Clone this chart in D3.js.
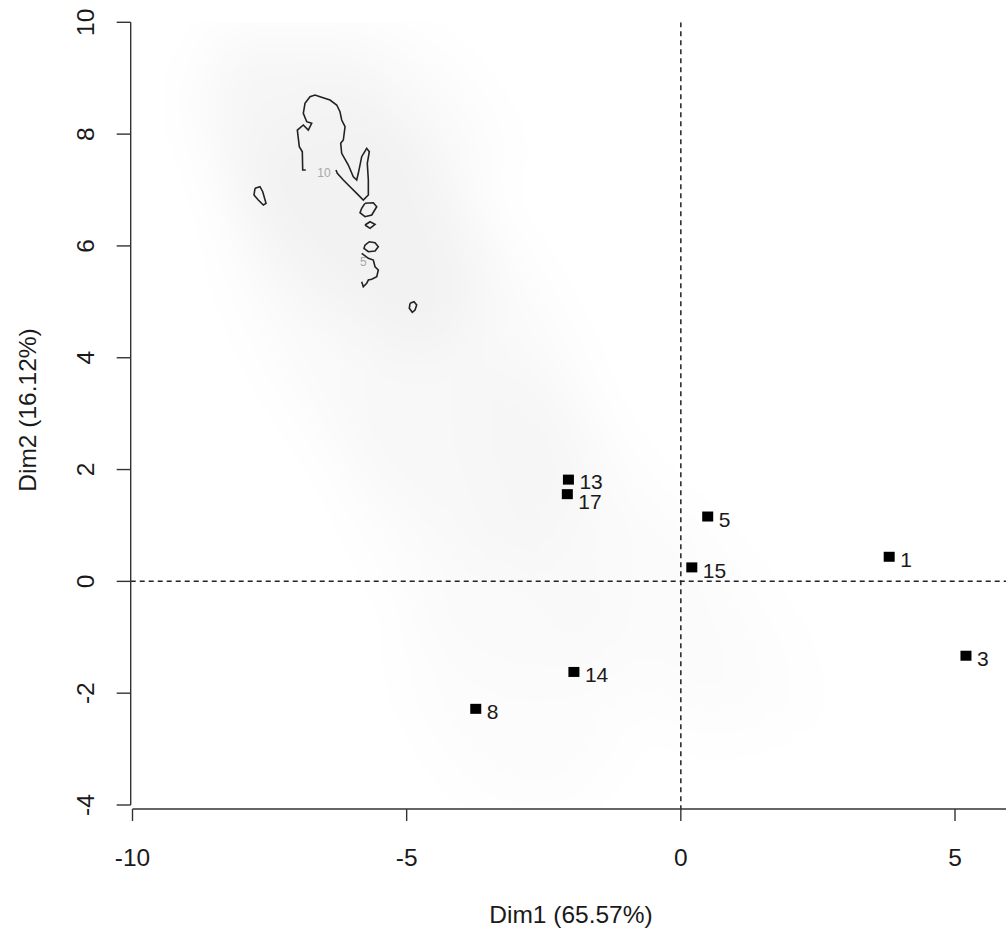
<!DOCTYPE html>
<html>
<head>
<meta charset="utf-8">
<script src="https://cdn.jsdelivr.net/npm/d3@7"></script>
<style>
  html, body { margin: 0; padding: 0; background: #ffffff; }
  svg { display: block; }
  text { font-family: "Liberation Sans", Arial, Helvetica, sans-serif; fill: #1a1a1a; }
</style>
</head>
<body>
<svg id="chart" width="1006" height="935"></svg>
<script>
// Individuals on the first factorial plane
const labels = ["13", "17", "5", "15", "1", "3", "14", "8"];
const dim1   = [-2.05, -2.07, 0.49, 0.20, 3.80, 5.20, -1.95, -3.74];
const dim2   = [ 1.82,  1.56, 1.16, 0.25, 0.44, -1.33, -1.62, -2.28];

const xTicks = [-10, -5, 0, 5];
const yTicks = [-4, -2, 0, 2, 4, 6, 8, 10];
const xTitle = "Dim1 (65.57%)";
const yTitle = "Dim2 (16.12%)";

// Density contour at level 10 (open where its label sits)
const contour10 = [
  [-6.289, 7.358], [-6.265, 7.299], [-6.155, 7.179], [-6.033, 7.059], [-5.911, 6.941],
  [-5.791, 6.821], [-5.699, 6.911], [-5.699, 7.179], [-5.718, 7.478], [-5.681, 7.685],
  [-5.729, 7.746], [-5.820, 7.596], [-5.882, 7.299], [-5.911, 7.179], [-5.973, 7.238],
  [-6.064, 7.447], [-6.185, 7.657], [-6.203, 7.835], [-6.155, 7.894], [-6.124, 8.132],
  [-6.185, 8.252], [-6.216, 8.401], [-6.276, 8.521], [-6.398, 8.610], [-6.580, 8.669],
  [-6.672, 8.700], [-6.763, 8.669], [-6.854, 8.551], [-6.885, 8.372], [-6.823, 8.222],
  [-6.732, 8.193], [-6.794, 8.073], [-6.885, 8.163], [-6.994, 8.073], [-6.958, 7.775],
  [-6.903, 7.685], [-6.896, 7.358], [-6.840, 7.358]
];
// Small closed islands of the same level
const islandA = [[-7.766, 7.030], [-7.675, 7.059], [-7.625, 6.970], [-7.565, 6.762], [-7.614, 6.732], [-7.706, 6.821], [-7.784, 6.911]];
const islandB = [[-5.760, 6.762], [-5.608, 6.773], [-5.546, 6.701], [-5.637, 6.553], [-5.760, 6.522], [-5.851, 6.594], [-5.820, 6.673]];
const islandC = [[-5.760, 6.374], [-5.668, 6.433], [-5.577, 6.386], [-5.668, 6.315]];
const islandD = [[-5.760, 6.016], [-5.681, 6.075], [-5.577, 6.057], [-5.517, 5.986], [-5.577, 5.909], [-5.699, 5.896], [-5.778, 5.957]];
const islandE = [[-4.939, 4.973], [-4.866, 5.002], [-4.817, 4.943], [-4.848, 4.853], [-4.897, 4.812], [-4.952, 4.884]];
// Open piece at level 5
const contour5 = [
  [-5.820, 5.868], [-5.699, 5.778], [-5.608, 5.748], [-5.577, 5.628], [-5.517, 5.569],
  [-5.546, 5.449], [-5.637, 5.403], [-5.699, 5.390], [-5.729, 5.331], [-5.791, 5.270], [-5.820, 5.360]
];
const contourLabels = [
  { text: "10", x: -6.507, y: 7.304 },
  { text: "5",  x: -5.791, y: 5.718 }
];

// Soft density shading: centre, half-lengths (Dim1 units), screen angle, grey level
const shadeCx    = [-6.2, -4.9, -3.6, -1.3, -3.0, 0.5, -5.0];
const shadeCy    = [ 7.0,  4.4,  1.4,  0.5, -1.6, -0.6, 8.6];
const shadeRx    = [ 3.4,  4.6,  3.6,  4.0,  2.6,  2.6, 2.0];
const shadeRy    = [ 1.7,  2.4,  2.2,  1.4,  1.9,  1.1, 0.9];
const shadeAngle = [ 52,   56,   62,   55,   72,   52,  40];
const shadeGrey  = [0.034, 0.02, 0.013, 0.011, 0.012, 0.008, 0.018];

const svg = d3.select("#chart");
const x = d3.scaleLinear().domain([-10, 5]).range([132.5, 955]);
const y = d3.scaleLinear().domain([-4, 10]).range([805, 22.3]);
const unit = x(1) - x(0);

const plotLeft = 130.7, plotRight = 1006, plotTop = 22.3, plotBottom = 809;

const defs = svg.append("defs");
defs.append("clipPath").attr("id", "plotClip")
  .append("rect").attr("x", plotLeft).attr("y", plotTop)
  .attr("width", plotRight - plotLeft).attr("height", plotBottom - plotTop);
defs.append("filter").attr("id", "soft")
  .attr("x", "-50%").attr("y", "-50%").attr("width", "200%").attr("height", "200%")
  .append("feGaussianBlur").attr("stdDeviation", 28);

// shading
const shade = svg.append("g").attr("clip-path", "url(#plotClip)")
  .append("g").attr("filter", "url(#soft)");
shadeCx.forEach((cx, i) => {
  shade.append("ellipse")
    .attr("transform", `translate(${x(cx)},${y(shadeCy[i])}) rotate(${shadeAngle[i]})`)
    .attr("rx", shadeRx[i] * unit)
    .attr("ry", shadeRy[i] * unit)
    .attr("fill", "#000")
    .attr("fill-opacity", shadeGrey[i]);
});

// reference lines through the origin
const plot = svg.append("g").attr("clip-path", "url(#plotClip)");
plot.append("line")
  .attr("x1", x(0)).attr("x2", x(0)).attr("y1", plotTop).attr("y2", plotBottom)
  .attr("stroke", "#222").attr("stroke-width", 1.5).attr("stroke-dasharray", "5,4");
plot.append("line")
  .attr("x1", plotLeft).attr("x2", plotRight).attr("y1", y(0)).attr("y2", y(0))
  .attr("stroke", "#222").attr("stroke-width", 1.5).attr("stroke-dasharray", "5,4");

// contours
const line = d3.line().x(d => x(d[0])).y(d => y(d[1]));
const closed = pts => pts.concat([pts[0]]);
const contourG = plot.append("g").attr("fill", "none").attr("stroke", "#222").attr("stroke-width", 1.6);
contourG.append("path").attr("d", line(contour10));
[islandA, islandB, islandC, islandD, islandE].forEach(p => contourG.append("path").attr("d", line(closed(p))));
contourG.append("path").attr("d", line(contour5));
plot.selectAll("text.clab").data(contourLabels).join("text")
  .attr("class", "clab")
  .attr("x", d => x(d.x)).attr("y", d => y(d.y))
  .attr("text-anchor", "middle").attr("dominant-baseline", "central")
  .attr("font-size", 12).style("fill", "#a8a8a8")
  .text(d => d.text);

// points
const pts = labels.map((l, i) => ({ label: l, x: dim1[i], y: dim2[i] }));
const sq = 10;
plot.selectAll("rect.pt").data(pts).join("rect")
  .attr("class", "pt")
  .attr("x", d => x(d.x) - sq / 2 - 0.5).attr("y", d => y(d.y) - sq / 2)
  .attr("width", sq + 1).attr("height", sq)
  .attr("fill", "#000");
// the two close neighbours are pushed slightly apart
const labelShift = { "13": -1, "17": 4 };
plot.selectAll("text.pl").data(pts).join("text")
  .attr("class", "pl")
  .attr("x", d => x(d.x) + 11).attr("y", d => y(d.y) + 3 + (labelShift[d.label] || 0))
  .attr("dominant-baseline", "central")
  .attr("font-size", 21)
  .text(d => d.label);

// axes in base-graphics style
const axisColor = "#333";
const axisFont = 24.5;
const fmt = d => d < 0 ? "-" + Math.abs(d) : String(d);

const xAxis = svg.append("g").attr("transform", `translate(0,${plotBottom})`);
xAxis.append("line").attr("x1", x(-10)).attr("x2", plotRight).attr("y1", 0).attr("y2", 0)
  .attr("stroke", axisColor).attr("stroke-width", 1.4);
xAxis.selectAll("line.tk").data(xTicks).join("line").attr("class", "tk")
  .attr("x1", d => x(d)).attr("x2", d => x(d)).attr("y1", 0).attr("y2", 12)
  .attr("stroke", axisColor).attr("stroke-width", 1.4);
xAxis.selectAll("text.tl").data(xTicks).join("text").attr("class", "tl")
  .attr("x", d => x(d)).attr("y", 48)
  .attr("text-anchor", "middle").attr("dominant-baseline", "central")
  .attr("font-size", axisFont)
  .text(fmt);

const yAxis = svg.append("g").attr("transform", `translate(${plotLeft},0)`);
yAxis.append("line").attr("x1", 0).attr("x2", 0).attr("y1", y(10)).attr("y2", y(-4))
  .attr("stroke", axisColor).attr("stroke-width", 1.4);
yAxis.selectAll("line.tk").data(yTicks).join("line").attr("class", "tk")
  .attr("x1", -14).attr("x2", 0).attr("y1", d => y(d)).attr("y2", d => y(d))
  .attr("stroke", axisColor).attr("stroke-width", 1.4);
yAxis.selectAll("text.tl").data(yTicks).join("text").attr("class", "tl")
  .attr("transform", d => `translate(-45,${y(d)}) rotate(-90)`)
  .attr("text-anchor", "middle").attr("dominant-baseline", "central")
  .attr("font-size", axisFont)
  .text(fmt);

// titles
svg.append("text").attr("x", 571).attr("y", 914)
  .attr("text-anchor", "middle").attr("dominant-baseline", "central")
  .attr("font-size", axisFont).text(xTitle);
svg.append("text")
  .attr("transform", `translate(27,${410}) rotate(-90)`)
  .attr("text-anchor", "middle").attr("dominant-baseline", "central")
  .attr("font-size", axisFont).text(yTitle);
</script>
</body>
</html>
